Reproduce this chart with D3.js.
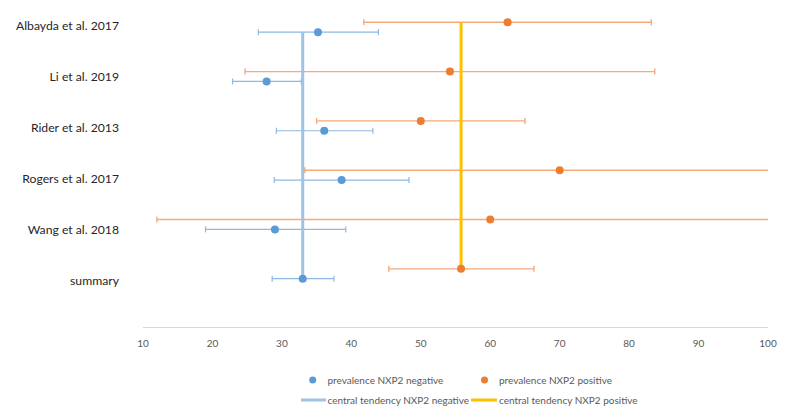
<!DOCTYPE html>
<html><head><meta charset="utf-8">
<script src="https://cdn.jsdelivr.net/npm/d3@7"></script>
<style>body{margin:0;background:#fff}svg{display:block}text{font-family:Lato,"Open Sans",sans-serif}</style>
</head><body><svg id="c" width="798" height="418"></svg>
<script>
const categories = ["Albayda et al. 2017","Li et al. 2019","Rider et al. 2013","Rogers et al. 2017","Wang et al. 2018","summary"];
const negValue = [35.2,27.8,36.1,38.6,29.0,33.0];
const negLow   = [26.6,22.9,29.2,28.9,19.0,28.6];
const negHigh  = [43.9,32.8,43.1,48.3,39.2,37.5];
const posValue = [62.5,54.2,50.0,70.0,60.0,55.8];
const posLow   = [41.8,24.7,35.0,33.3,12.0,45.4];
const posHigh  = [83.2,83.7,65.0,100,100,66.3];
const xTicks = [10,20,30,40,50,60,70,80,90,100];
const centralNeg = 33.0, centralPos = 55.8;
const legendItems = ["prevalence NXP2 negative","prevalence NXP2 positive","central tendency NXP2 negative","central tendency NXP2 positive"];

const svg = d3.select("#c");
const x = d3.scaleLinear().domain([10,100]).range([143,768]);
const y = d3.scaleLinear().domain([0,6.5]).range([328,7.5]);
const yLab = d3.scalePoint().domain(categories).range([26,280.7]);

const cBlue="#5B9BD5", cBlueErr="#8DB8E2", cBlueLine="#9DC3E6";
const cOr="#ED7D31", cOrErr="#F5AA7A", cYel="#FFC000";

// axis
svg.append("line").attr("x1",x(10)).attr("x2",x(100)).attr("y1",327.5).attr("y2",327.5).attr("stroke","#D9D9D9").attr("stroke-width",1);
svg.selectAll(".tick").data(xTicks).join("text").attr("x",d=>x(d)).attr("y",343).attr("dy","0.35em").attr("text-anchor","middle")
  .attr("font-size",10).attr("fill","#595959").text(d=>d);

// category labels
svg.selectAll(".cat").data(categories).join("text").attr("x",119).attr("y",d=>yLab(d)).attr("dy","0.35em")
  .attr("text-anchor","end").attr("font-size",12.2).attr("fill","#262626").text(d=>d);

const idx = d3.range(categories.length);
function errBars(low, high, yOff, color, w){
  const g = svg.append("g");
  g.selectAll("line.e").data(idx).join("line").attr("x1",i=>x(low[i])).attr("x2",i=>x(Math.min(high[i],100)))
    .attr("y1",i=>y(6-i+yOff)).attr("y2",i=>y(6-i+yOff)).attr("stroke",color).attr("stroke-width",w);
  const caps=[];
  idx.forEach(i=>{ caps.push([low[i],i]); if(high[i]<100) caps.push([high[i],i]); });
  g.selectAll("line.c").data(caps).join("line").attr("x1",d=>x(d[0])).attr("x2",d=>x(d[0]))
    .attr("y1",d=>y(6-d[1]+yOff)-3).attr("y2",d=>y(6-d[1]+yOff)+3).attr("stroke",color).attr("stroke-width",w);
}
errBars(negLow,negHigh,0,cBlueErr,1.2);
errBars(posLow,posHigh,0.2,cOrErr,1.4);

// central lines
svg.append("line").attr("x1",x(centralNeg)).attr("x2",x(centralNeg)).attr("y1",y(6)).attr("y2",y(1)).attr("stroke",cBlueLine).attr("stroke-width",3);
svg.append("line").attr("x1",x(centralPos)).attr("x2",x(centralPos)).attr("y1",y(6.2)).attr("y2",y(1.2)).attr("stroke",cYel).attr("stroke-width",3);

// points
svg.selectAll(".pn").data(idx).join("circle").attr("cx",i=>x(negValue[i])).attr("cy",i=>y(6-i)).attr("r",4).attr("fill",cBlue);
svg.selectAll(".pp").data(idx).join("circle").attr("cx",i=>x(posValue[i])).attr("cy",i=>y(6.2-i)).attr("r",4).attr("fill",cOr);

// legend
const lg = svg.append("g").attr("font-size",10).attr("fill","#595959");
lg.append("circle").attr("cx",312.7).attr("cy",380).attr("r",3.5).attr("fill",cBlue);
lg.append("text").attr("x",327.5).attr("y",380).attr("dy","0.35em").text(legendItems[0]);
lg.append("circle").attr("cx",484.5).attr("cy",380).attr("r",3.5).attr("fill",cOr);
lg.append("text").attr("x",499).attr("y",380).attr("dy","0.35em").text(legendItems[1]);
lg.append("line").attr("x1",301).attr("x2",326).attr("y1",400).attr("y2",400).attr("stroke",cBlueLine).attr("stroke-width",3);
lg.append("text").attr("x",327.5).attr("y",400).attr("dy","0.35em").text(legendItems[2]);
lg.append("line").attr("x1",471).attr("x2",497).attr("y1",400).attr("y2",400).attr("stroke",cYel).attr("stroke-width",3);
lg.append("text").attr("x",499).attr("y",400).attr("dy","0.35em").text(legendItems[3]);
</script></body></html>
